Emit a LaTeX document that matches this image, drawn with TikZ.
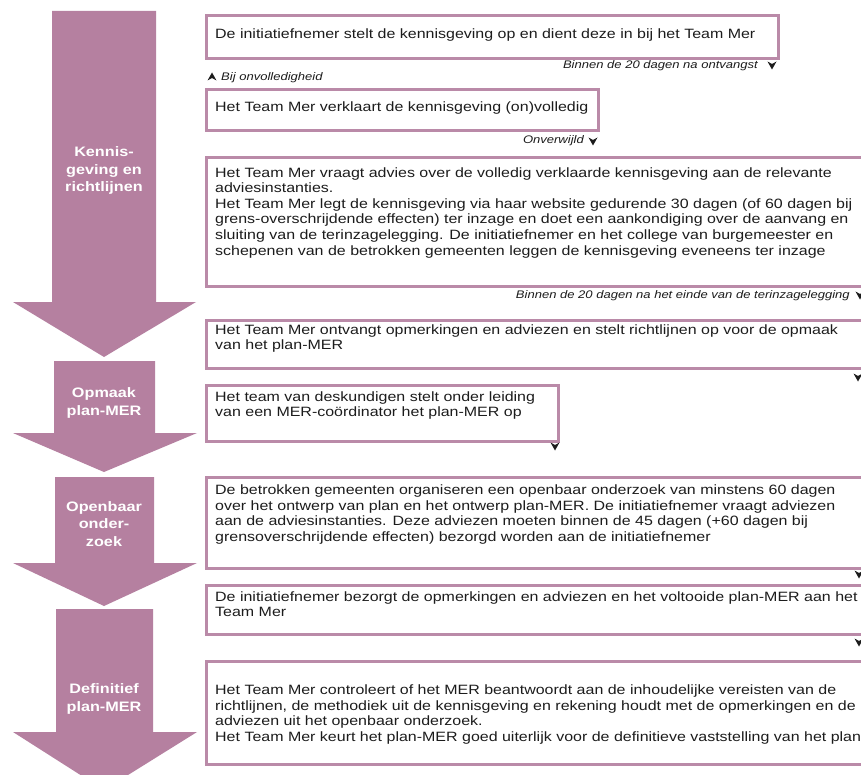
\documentclass[tikz,border=0pt]{standalone}
\usepackage{fontspec}
\setmainfont{Liberation Sans}
\usepackage{graphicx}
\definecolor{phase}{RGB}{181,128,160}
\definecolor{boxline}{RGB}{186,138,168}
\definecolor{ink}{RGB}{28,28,28}
\newcommand\hs[1]{\scalebox{1.184}[1]{#1}}
\newcommand\lines[1]{\hs{\begin{tabular}{@{}l@{}}#1\end{tabular}}}
\newcommand\clines[1]{\hs{\begin{tabular}{@{}c@{}}#1\end{tabular}}}
\begin{document}
\begin{tikzpicture}[x=1pt,y=-1pt,
  mbox/.style={draw=boxline, line width=3pt, fill=white, anchor=north west, inner sep=0pt},
  txt/.style={anchor=west, inner sep=0pt, text=ink, font=\fontsize{13.5}{15.6}\selectfont},
  lab/.style={inner sep=0pt, text=ink, font=\fontsize{11}{13}\selectfont\itshape},
  phlab/.style={inner sep=0pt, text=white, font=\fontsize{13.7}{17.5}\selectfont\bfseries},
  dnmark/.pic={\fill[ink] (0,4.5) -- (-4.5,-3.5) -- (0,-1) -- (4.5,-3.5) -- cycle;},
  upmark/.pic={\fill[ink] (0,-4.5) -- (-4.5,3.5) -- (0,1) -- (4.5,3.5) -- cycle;}
]
\useasboundingbox (0,0) rectangle (861,775);
\clip (0,0) rectangle (861,775);
\fill[white] (0,0) rectangle (861,775);

% phase arrows
\fill[phase] (52,11) -- (156,11) -- (156,302) -- (196,302) -- (104,357) -- (13,302) -- (52,302) -- cycle;
\fill[phase] (54,361) -- (155,361) -- (155,433) -- (197,433) -- (104,472) -- (13,433) -- (54,433) -- cycle;
\fill[phase] (55,477) -- (154,477) -- (154,563) -- (197,563) -- (104,606) -- (13,563) -- (55,563) -- cycle;
\fill[phase] (56,609) -- (153,609) -- (153,732) -- (197,732) -- (104,790) -- (13,732) -- (56,732) -- cycle;

\node[phlab] (p1) at (104,171) {\clines{Kennis-\\geving en\\richtlijnen}};
\node[phlab] (p2) at (104,403) {\clines{Opmaak\\plan-MER}};
\node[phlab] (p3) at (104,525) {\clines{Openbaar\\onder-\\zoek}};
\node[phlab] (p4) at (104,699) {\clines{Definitief\\plan-MER}};

% boxes
\node[mbox, minimum width=572pt, minimum height=43pt] (b1) at (205,14) {};
\node[mbox, minimum width=392pt, minimum height=41pt] (b2) at (205,88) {};
\node[mbox, minimum width=680pt, minimum height=129pt] (b3) at (205,156) {};
\node[mbox, minimum width=680pt, minimum height=48pt] (b4) at (205,319) {};
\node[mbox, minimum width=352pt, minimum height=56pt] (b5) at (205,384) {};
\node[mbox, minimum width=680pt, minimum height=91pt] (b6) at (205,476) {};
\node[mbox, minimum width=680pt, minimum height=49pt] (b7) at (205,584) {};
\node[mbox, minimum width=680pt, minimum height=103pt] (b8) at (205,660) {};

\node[txt] (t1) at (215,35) {\lines{De initiatiefnemer stelt de kennisgeving op en dient deze in bij het Team Mer}};
\node[txt] (t2) at (215,108) {\lines{Het Team Mer verklaart de kennisgeving (on)volledig}};
\node[txt] (t3) at (215,213) {\lines{Het Team Mer vraagt advies over de volledig verklaarde kennisgeving aan de relevante\\adviesinstanties.\\Het Team Mer legt de kennisgeving via haar website gedurende 30 dagen (of 60 dagen bij\\grens-overschrijdende effecten) ter inzage en doet een aankondiging over de aanvang en\\sluiting van de terinzagelegging. De initiatiefnemer en het college van burgemeester en\\schepenen van de betrokken gemeenten leggen de kennisgeving eveneens ter inzage}};
\node[txt] (t4) at (215,339) {\lines{Het Team Mer ontvangt opmerkingen en adviezen en stelt richtlijnen op voor de opmaak\\van het plan-MER}};
\node[txt] (t5) at (215,406) {\lines{Het team van deskundigen stelt onder leiding\\van een MER-coördinator het plan-MER op}};
\node[txt] (t6) at (215,515) {\lines{De betrokken gemeenten organiseren een openbaar onderzoek van minstens 60 dagen\\over het ontwerp van plan en het ontwerp plan-MER. De initiatiefnemer vraagt adviezen\\aan de adviesinstanties. Deze adviezen moeten binnen de 45 dagen (+60 dagen bij\\grensoverschrijdende effecten) bezorgd worden aan de initiatiefnemer}};
\node[txt] (t7) at (215,606) {\lines{De initiatiefnemer bezorgt de opmerkingen en adviezen en het voltooide plan-MER aan het\\Team Mer}};
\node[txt] (t8) at (215,715) {\lines{Het Team Mer controleert of het MER beantwoordt aan de inhoudelijke vereisten van de\\richtlijnen, de methodiek uit de kennisgeving en rekening houdt met de opmerkingen en de\\adviezen uit het openbaar onderzoek.\\Het Team Mer keurt het plan-MER goed uiterlijk voor de definitieve vaststelling van het plan}};

% timing labels and marks
\node[lab, anchor=east] (l1) at (758,66) {\hs{Binnen de 20 dagen na ontvangst}};
\pic at (772,65) {dnmark};
\pic at (212,77) {upmark};
\node[lab, anchor=west] (l2) at (221,78) {\hs{Bij onvolledigheid}};
\node[lab, anchor=east] (l3) at (584,141) {\hs{Onverwijld}};
\pic at (593,141) {dnmark};
\node[lab, anchor=east] (l4) at (850,296) {\hs{Binnen de 20 dagen na het einde van de terinzagelegging}};
\pic at (860,295) {dnmark};
\pic at (858,377) {dnmark};
\pic at (555,446) {dnmark};
\pic at (859,574) {dnmark};
\pic at (859,642) {dnmark};
\end{tikzpicture}
\end{document}
